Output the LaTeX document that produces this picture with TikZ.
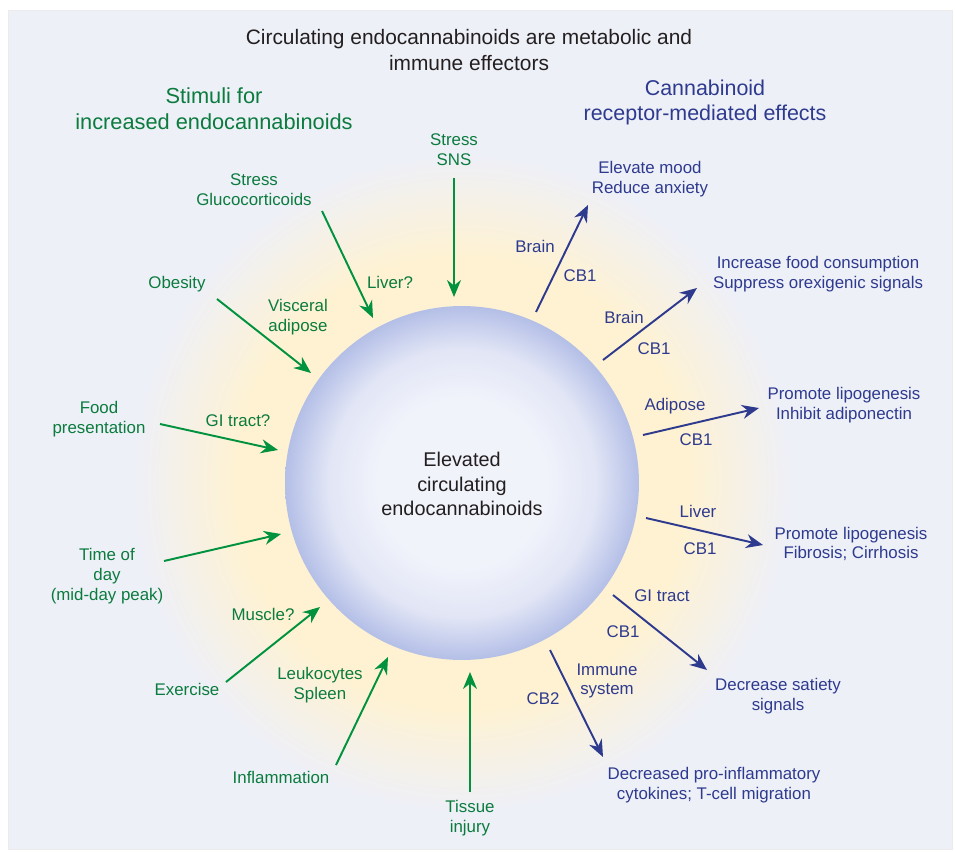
\documentclass[tikz,border=0pt]{standalone}
\usepackage{fontspec}
\setmainfont{Liberation Sans}
\usetikzlibrary{arrows.meta}
\definecolor{bgpale}{HTML}{EEF0F8}
\definecolor{haloyel}{HTML}{FFF2D2}
\definecolor{stimgreen}{HTML}{0B7B3E}
\definecolor{arrgreen}{HTML}{00923F}
\definecolor{effblue}{HTML}{2E3A8E}
\definecolor{titlegrey}{HTML}{231F20}
\definecolor{sphin}{HTML}{F1F3FB}
\definecolor{sphmid}{HTML}{E1E5F5}
\definecolor{sphout}{HTML}{B4BFE7}
\pgfdeclareradialshading{halo}{\pgfpoint{0bp}{0bp}}{color(0bp)=(haloyel); color(17bp)=(haloyel); color(25bp)=(bgpale); color(50bp)=(bgpale)}
\pgfdeclareradialshading{sphere}{\pgfpoint{0bp}{0bp}}{color(0bp)=(sphin); color(12bp)=(sphin); color(19bp)=(sphmid); color(25bp)=(sphout); color(50bp)=(sphout)}

\begin{document}
\begin{tikzpicture}[x=0.02cm,y=-0.02cm,
      lbl/.style={align=center,inner sep=1pt,font=\fontsize{9.6}{11.3}\selectfont},
      stim/.style={lbl,text=stimgreen},
      eff/.style={lbl,text=effblue},
      inarr/.style={draw=arrgreen,line width=1.1pt,-{Stealth[length=0.34cm,width=0.28cm]}},
      outarr/.style={draw=effblue,line width=1.1pt,-{Stealth[length=0.34cm,width=0.28cm]}}]
    \useasboundingbox (0,0) rectangle (955,851);
    % backdrop, halo and sphere
    \fill[bgpale,draw=black!8] (8,10) rectangle (952,849);
    \shade[shading=halo] (462,483) circle[radius=6.6cm];
    \shade[shading=sphere] (462,483) circle[radius=3.54cm];
    \node[align=center,text=titlegrey,font=\fontsize{11.3}{14.1}\selectfont] (core) at (462,484)
      {Elevated\\circulating\\endocannabinoids};
    % headings
    \node[align=center,text=titlegrey,font=\fontsize{11.9}{14.7}\selectfont] (title) at (469,50)
      {Circulating endocannabinoids are metabolic and\\immune effectors};
    \node[align=center,text=stimgreen,font=\fontsize{12.4}{14.6}\selectfont] (stimhd) at (214,109)
      {Stimuli for\\increased endocannabinoids};
    \node[align=center,text=effblue,font=\fontsize{12.2}{14.2}\selectfont] (effhd) at (705,102)
      {Cannabinoid\\receptor-mediated effects};
    % stimuli (left, green)
    \node[stim] (sns) at (454,150) {Stress\\SNS};
    \node[stim] (gluco) at (254,190) {Stress\\Glucocorticoids};
    \node[stim] (liverq) at (390,282) {Liver?};
    \node[stim] (obes) at (177,284) {Obesity};
    \node[stim] (visc) at (298,317) {Visceral\\adipose};
    \node[stim] (food) at (99,419) {Food\\presentation};
    \node[stim] (gitq) at (238,421) {GI tract?};
    \node[stim] (tod) at (107,576) {Time of\\day\\(mid-day peak)};
    \node[stim] (musc) at (263,614) {Muscle?};
    \node[stim] (exer) at (187,689) {Exercise};
    \node[stim] (leuk) at (320,685) {Leukocytes\\Spleen};
    \node[stim] (infl) at (281,777) {Inflammation};
    \node[stim] (tiss) at (470,818) {Tissue\\injury};
    \foreach \n/\a/\b in {g1/{454,178}/{454,297}, g2/{322,211}/{373,318},
        g3/{217,299}/{311,373}, g4/{160,424}/{278,450}, g5/{164,561}/{281,534},
        g6/{226,682}/{320,607}, g7/{336,765}/{388,657}, g8/{470,792}/{470,672}} {
      \coordinate (\n s) at (\a); \coordinate (\n e) at (\b);
      \draw[inarr] (\n s) -- (\n e);
    }
    % effects (right, blue)
    \node[eff] (mood) at (650,179) {Elevate mood\\Reduce anxiety};
    \node[eff] (brainA) at (535,246) {Brain};
    \node[eff] (cbA) at (580,276) {CB1};
    \node[eff] (foodc) at (818,274) {Increase food consumption\\Suppress orexigenic signals};
    \node[eff] (brainB) at (624,317) {Brain};
    \node[eff] (cbB) at (654,349) {CB1};
    \node[eff] (lipoA) at (844,405) {Promote lipogenesis\\Inhibit adiponectin};
    \node[eff] (adip) at (675,406) {Adipose};
    \node[eff] (cbC) at (696,440) {CB1};
    \node[eff] (liver) at (698,511) {Liver};
    \node[eff] (cbD) at (700,549) {CB1};
    \node[eff] (lipoB) at (851,544) {Promote lipogenesis\\Fibrosis; Cirrhosis};
    \node[eff] (gitr) at (662,596) {GI tract};
    \node[eff] (cbE) at (623,632) {CB1};
    \node[eff] (sat) at (778,696) {Decrease satiety\\signals};
    \node[eff] (immune) at (607,681) {Immune\\system};
    \node[eff] (cbF) at (543,699) {CB2};
    \node[eff] (cyto) at (714,785) {Decreased pro-inflammatory\\cytokines; T-cell migration};
    \foreach \n/\a/\b in {b1/{536,312}/{588,205}, b2/{603,360}/{697,288},
        b3/{643,435}/{759,408}, b4/{646,518}/{763,545}, b5/{613,595}/{707,670},
        b6/{550,650}/{603,757}} {
      \coordinate (\n s) at (\a); \coordinate (\n e) at (\b);
      \draw[outarr] (\n s) -- (\n e);
    }
  \end{tikzpicture}
\end{document}
